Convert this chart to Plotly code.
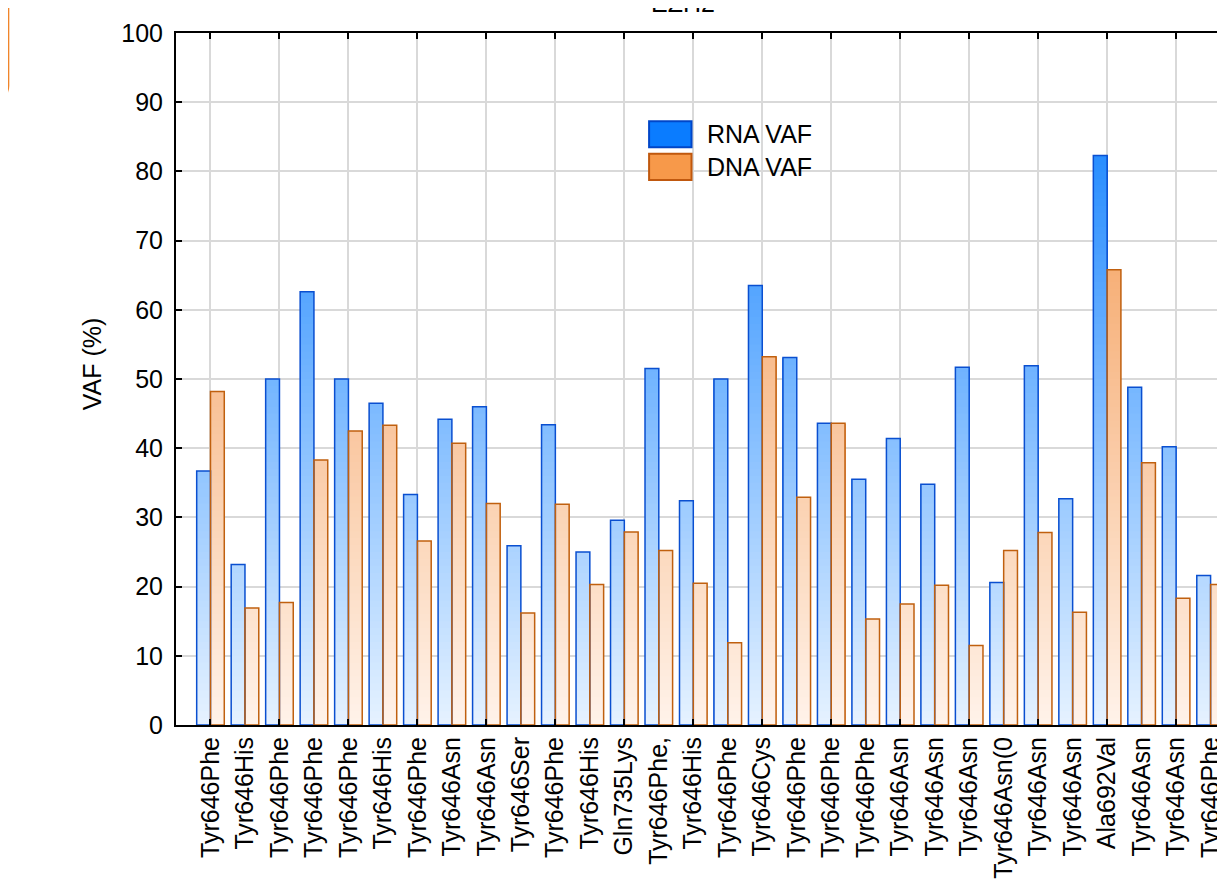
import plotly.graph_objects as go

# ---------------- data ----------------
categories = ["Tyr646Phe", "Tyr646His", "Tyr646Phe", "Tyr646Phe", "Tyr646Phe", "Tyr646His",
              "Tyr646Phe", "Tyr646Asn", "Tyr646Asn", "Tyr646Ser", "Tyr646Phe", "Tyr646His",
              "Gln735Lys", "Tyr646Phe,", "Tyr646His", "Tyr646Phe", "Tyr646Cys", "Tyr646Phe",
              "Tyr646Phe", "Tyr646Phe", "Tyr646Asn", "Tyr646Asn", "Tyr646Asn", "Tyr646Asn(0",
              "Tyr646Asn", "Tyr646Asn", "Ala692Val", "Tyr646Asn", "Tyr646Asn", "Tyr646Phe"]
rna_vaf = [36.7, 23.2, 50.0, 62.6, 50.0, 46.5, 33.3, 44.2, 46.0, 25.9, 43.4, 25.0, 29.6, 51.5, 32.4,
           50.0, 63.5, 53.1, 43.6, 35.5, 41.4, 34.8, 51.7, 20.6, 51.9, 32.7, 82.3, 48.8, 40.2, 21.6]
dna_vaf = [48.2, 16.9, 17.7, 38.3, 42.5, 43.3, 26.6, 40.7, 32.0, 16.2, 31.9, 20.3, 27.9, 25.2, 20.5,
           11.9, 53.2, 32.9, 43.6, 15.3, 17.5, 20.2, 11.5, 25.2, 27.8, 16.3, 65.8, 37.9, 18.3, 20.3]
series_names = ["RNA VAF", "DNA VAF"]
y_ticks = [0, 10, 20, 30, 40, 50, 60, 70, 80, 90, 100]

# ---------------- style ----------------
FONT = "Liberation Sans, Arial, sans-serif"
FS = 25
OFF = 8                      # default page margin of the html body
W, H = 1225 - OFF, 887 - 2 * OFF
ML, MT = 176 - OFF, 33 - OFF
MR = 0
MB = H - (727 - OFF)
PW, PH = W - ML - MR, H - MT - MB

idx = list(range(len(categories)))
x_range = [-1.0, 29.36]

blue_lo, blue_hi = (230, 242, 255), (0, 120, 255)
orng_lo, orng_hi = (255, 243, 234), (242, 140, 60)
blue_edge, orng_edge = "#0a4fd0", "#c0600f"


def mix(c0, c1, t):
    return "rgb(%d,%d,%d)" % tuple(round(a + (b - a) * t) for a, b in zip(c0, c1))


fig = go.Figure()
N = 100
for vals, c0, c1, off in [(rna_vaf, blue_lo, blue_hi, -0.4), (dna_vaf, orng_lo, orng_hi, 0.0)]:
    for k in range(N - 1, -1, -1):
        hi = (k + 1) * 100.0 / N
        yk = [min(v, hi) for v in vals]
        fig.add_trace(go.Bar(x=idx, y=yk, width=0.4, offset=off,
                             marker=dict(color=mix(c0, c1, (k + 0.5) / N), line=dict(width=0)),
                             showlegend=False, hoverinfo="skip"))

for vals, edge, off, name in [(rna_vaf, blue_edge, -0.4, series_names[0]),
                              (dna_vaf, orng_edge, 0.0, series_names[1])]:
    fig.add_trace(go.Bar(x=idx, y=vals, width=0.4, offset=off, name=name,
                         marker=dict(color="rgba(0,0,0,0)", line=dict(color=edge, width=1.5)),
                         showlegend=False))

# invisible trace on the overlay axis (ticks every second category + vertical grid)
fig.add_trace(go.Scatter(x=[0], y=[0], xaxis="x2", mode="markers",
                         marker=dict(opacity=0), showlegend=False, hoverinfo="skip"))

fig.update_layout(
    width=W, height=H, barmode="overlay",
    margin=dict(l=ML, r=MR, t=MT, b=MB, pad=0),
    paper_bgcolor="white", plot_bgcolor="white",
    font=dict(family=FONT, size=FS, color="black"),
    xaxis=dict(range=x_range, tickmode="array", tickvals=idx, ticktext=categories,
               tickangle=-90, ticks="", showgrid=False, zeroline=False,
               showline=True, linecolor="black", linewidth=2, mirror=True,
               tickfont=dict(size=FS, family=FONT)),
    xaxis2=dict(range=x_range, overlaying="x", side="bottom", tickmode="array",
                tickvals=idx[::2], ticks="inside", ticklen=6, tickwidth=2, tickcolor="black",
                showticklabels=False, showgrid=True, gridcolor="#d9d9d9", gridwidth=1.5,
                zeroline=False, showline=False, mirror="ticks"),
    yaxis=dict(range=[0, 100], tickmode="array", tickvals=y_ticks, ticks="inside",
               ticklen=6, tickwidth=2, tickcolor="black", showgrid=True,
               gridcolor="#d9d9d9", gridwidth=1.5, zeroline=False, showline=True,
               linecolor="black", linewidth=2, mirror="ticks", ticklabelstandoff=6,
               tickfont=dict(size=FS, family=FONT)),
)


def px_x(p):
    return (p - OFF - ML) / PW


def px_y(p):
    return (H - MB - (p - OFF)) / PH


shapes = []
# legend swatches
shapes.append(dict(type="rect", xref="paper", yref="paper", x0=px_x(650), x1=px_x(692.5),
                   y0=px_y(147.5), y1=px_y(121.5), fillcolor="#0a7cff",
                   line=dict(color="#0046c8", width=2)))
shapes.append(dict(type="rect", xref="paper", yref="paper", x0=px_x(650), x1=px_x(692.5),
                   y0=px_y(180.5), y1=px_y(154), fillcolor="#f7994a",
                   line=dict(color="#c0580e", width=2)))
# orange rounded tab at top-left corner
xl, xr = px_x(-20), px_x(9)
yt, yb = px_y(-20), px_y(98)
rx, ry = 12 / PW, 12 / PH
shapes.append(dict(type="path", xref="paper", yref="paper",
                   path=f"M {xl},{yt} L {xr},{yt} L {xr},{yb + ry} Q {xr},{yb} {xr - rx},{yb} L {xl},{yb} Z",
                   fillcolor="#f0852a", line=dict(width=0)))
fig.update_layout(shapes=shapes)

annotations = [
    dict(text=series_names[0], xref="paper", yref="paper", x=px_x(706), y=px_y(134.5),
         xanchor="left", yanchor="middle", showarrow=False, font=dict(size=FS)),
    dict(text=series_names[1], xref="paper", yref="paper", x=px_x(706), y=px_y(167.5),
         xanchor="left", yanchor="middle", showarrow=False, font=dict(size=FS)),
    dict(text="EZH2", xref="paper", yref="paper", x=px_x(684), y=px_y(3),
         xanchor="center", yanchor="middle", showarrow=False, font=dict(size=FS)),
    dict(text="VAF (%)", xref="paper", yref="paper", x=px_x(92), y=px_y(365),
         xanchor="center", yanchor="middle", textangle=-90, showarrow=False, font=dict(size=FS)),
]
fig.update_layout(annotations=annotations)

fig.write_html("out.html")
